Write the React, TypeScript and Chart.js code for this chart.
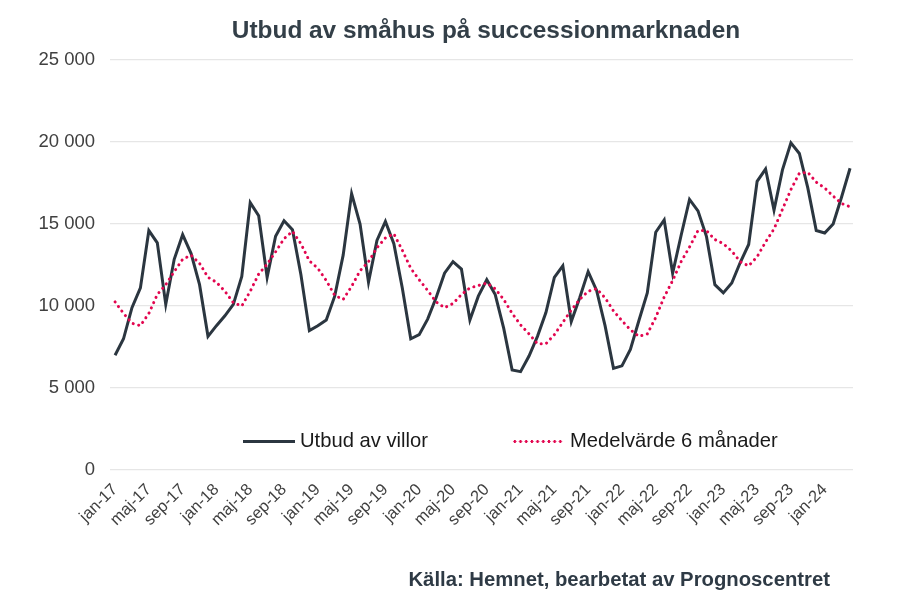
import React, { useEffect, useRef } from 'react';
import { Chart, registerables } from 'chart.js';
Chart.register(...registerables);

const monthNames = ['jan', 'feb', 'mar', 'apr', 'maj', 'jun', 'jul', 'aug', 'sep', 'okt', 'nov', 'dec'];
const years = ['17', '18', '19', '20', '21', '22', '23', '24'];
const categories: string[] = years.flatMap((y) => monthNames.map((m) => `${m}-${y}`)).slice(0, 88);

// Utbud av villor (monthly, jan-17 .. apr-24)
const utbud: number[] = [
  7000, 8000, 9900, 11100, 14600, 13850, 10100, 12850, 14350, 13200, 11300, 8150,
  8800, 9400, 10100, 11800, 16300, 15500, 11750, 14250, 15200, 14650, 11900, 8500,
  8800, 9150, 10600, 13100, 16850, 15000, 11450, 14000, 15150, 13800, 11100, 8000,
  8250, 9200, 10500, 12000, 12700, 12250, 9150, 10600, 11600, 10700, 8650, 6100,
  6000, 6950, 8150, 9600, 11750, 12450, 9050, 10500, 12100, 10950, 8800, 6200,
  6350, 7350, 9100, 10800, 14500, 15250, 12000, 14300, 16500, 15800, 14250, 11300,
  10800, 11400, 12650, 13750, 17600, 18350, 15850, 18300, 19950, 19300, 17200, 14600,
  14450, 15000, 16650, 18400,
];

// Medelvärde 6 månader
const medel: number[] = [
  10250, 9550, 8950, 8800, 9550, 10700, 11300, 12100, 12850, 13100, 12600, 11750,
  11450, 10900, 10200, 10000, 10900, 11950, 12550, 13300, 14100, 14550, 13800, 12750,
  12300, 11550, 10650, 10400, 11200, 12150, 12700, 13550, 14150, 14400, 13400, 12300,
  11600, 10950, 10250, 9900, 10150, 10700, 11100, 11250, 11400, 11050, 10400, 9550,
  8850, 8300, 7700, 7700, 8250, 9000, 9750, 10400, 10900, 11050, 10500, 9700,
  9100, 8550, 8150, 8300, 9300, 10550, 11550, 12700, 13600, 14600, 14600, 14050,
  13800, 13350, 12700, 12450, 13000, 13900, 14700, 15900, 17100, 18100, 18150, 17550,
  17200, 16700, 16250, 16050,
];

const xTickIndex: number[] = [0, 4, 8, 12, 16, 20, 24, 28, 32, 36, 40, 44, 48, 52, 56, 60, 64, 68, 72, 76, 80, 84];
const yTicks: number[] = [0, 5000, 10000, 15000, 20000, 25000];

const FONT = "'Liberation Sans', Arial, sans-serif";
const DARK = '#2B3640';
const PINK = '#E2064F';

export default function App() {
  const ref = useRef<HTMLCanvasElement | null>(null);

  useEffect(() => {
    if (!ref.current) return;
    const chart = new Chart(ref.current, {
      type: 'line',
      data: {
        datasets: [
          {
            label: 'Utbud av villor',
            data: utbud.map((v, i) => ({ x: i, y: v })),
            borderColor: DARK,
            borderWidth: 3,
            pointRadius: 0,
            tension: 0,
            order: 2,
          },
          {
            label: 'Medelvärde 6 månader',
            data: medel.map((v, i) => ({ x: i, y: v })),
            borderColor: PINK,
            borderWidth: 3,
            borderDash: [0.1, 5.6],
            borderCapStyle: 'round',
            pointRadius: 0,
            tension: 0,
            order: 1,
          },
        ],
      },
      options: {
        responsive: false,
        animation: false,
        layout: { padding: { left: 0, top: 60, right: 47, bottom: 0 } },
        plugins: { legend: { display: false }, tooltip: { enabled: false }, title: { display: false } },
        scales: {
          x: {
            type: 'linear',
            min: -0.6,
            max: 87.35,
            afterBuildTicks: (s: any) => {
              s.ticks = xTickIndex.map((v) => ({ value: v }));
            },
            afterFit: (s: any) => {
              s.height = 138;
            },
            ticks: {
              autoSkip: false,
              minRotation: 45,
              maxRotation: 45,
              padding: 2,
              color: '#404040',
              font: { family: FONT, size: 16.5 },
              callback: (v: any) => categories[v as number] ?? '',
            },
            grid: { display: false },
            border: { display: false },
          },
          y: {
            min: 0,
            max: 25000,
            afterBuildTicks: (s: any) => {
              s.ticks = yTicks.map((v) => ({ value: v }));
            },
            afterFit: (s: any) => {
              s.width = 110;
            },
            ticks: {
              padding: 15,
              color: '#404040',
              font: { family: FONT, size: 18.5 },
              callback: (v: any) => String(v).replace(/\B(?=(\d{3})+(?!\d))/g, ' '),
            },
            grid: { color: '#e6e6e6', lineWidth: 1.3, drawTicks: false },
            border: { display: false },
          },
        },
      },
    } as any);
    return () => chart.destroy();
  }, []);

  return (
    <div
      style={{
        position: 'fixed',
        left: 0,
        top: 0,
        width: 900,
        height: 608,
        background: '#ffffff',
        fontFamily: FONT,
        overflow: 'hidden',
      }}
    >
      <canvas ref={ref} width={900} height={608} style={{ position: 'absolute', left: 0, top: 0, width: 900, height: 608 }} />
      <div
        style={{
          position: 'absolute',
          left: 486,
          top: 16,
          transform: 'translateX(-50%)',
          whiteSpace: 'nowrap',
          fontWeight: 'bold',
          fontSize: 24.4,
          color: '#333F48',
        }}
      >
        Utbud av småhus på successionmarknaden
      </div>
      <div style={{ position: 'absolute', left: 243, top: 439.5, width: 52, height: 3, background: DARK }} />
      <div style={{ position: 'absolute', left: 300, top: 429, fontSize: 20.2, color: '#1a1a1a', whiteSpace: 'nowrap' }}>
        Utbud av villor
      </div>
      <div
        style={{
          position: 'absolute',
          left: 512,
          top: 439.5,
          width: 52,
          height: 3,
          backgroundImage: `radial-gradient(circle, ${PINK} 1.3px, rgba(255,255,255,0) 1.7px)`,
          backgroundSize: '5.7px 3px',
        }}
      />
      <div style={{ position: 'absolute', left: 570, top: 429, fontSize: 20.2, color: '#1a1a1a', whiteSpace: 'nowrap' }}>
        Medelvärde 6 månader
      </div>
      <div
        style={{
          position: 'absolute',
          right: 70,
          top: 568,
          fontWeight: 'bold',
          fontSize: 20.3,
          color: '#2E3A45',
          whiteSpace: 'nowrap',
        }}
      >
        Källa: Hemnet, bearbetat av Prognoscentret
      </div>
    </div>
  );
}
